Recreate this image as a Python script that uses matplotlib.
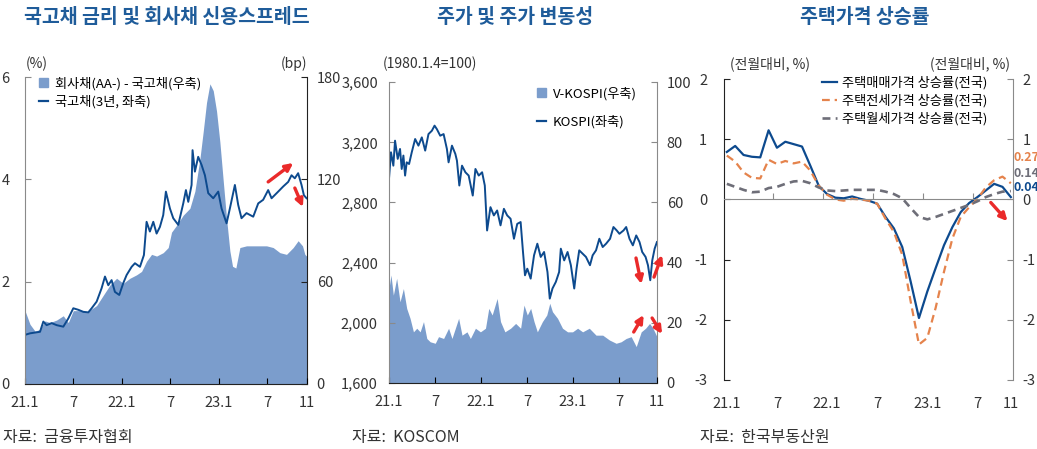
import matplotlib.pyplot as plt
from matplotlib.patches import Patch
from matplotlib.lines import Line2D
from matplotlib.ticker import FuncFormatter

plt.rcParams['font.family'] = ['Noto Sans CJK KR', 'DejaVu Sans']
plt.rcParams['axes.unicode_minus'] = False

# ---- 데이터 (그림에서 읽은 값, x = 2021.1부터의 개월 수) ----
# 국고채 3년 (%)
bond_t = [0.0, 0.62, 1.86, 2.27, 2.68, 3.30, 3.92, 4.74, 5.36, 5.98, 6.60, 7.22, 7.84, 8.25,
          8.87, 9.48, 9.90, 10.31, 10.72, 11.13, 11.67, 12.16, 12.58, 13.20, 13.61, 14.23,
          14.72, 15.05, 15.46, 15.88, 16.29, 16.70, 17.11, 17.44, 17.94, 18.35, 18.97, 19.59,
          19.92, 20.21, 20.62, 20.74, 21.03, 21.44, 21.86, 22.27, 22.68, 23.30, 23.92, 24.33,
          24.95, 25.36, 25.98, 26.39, 26.80, 27.42, 28.25, 28.87, 29.48, 30.10, 30.52, 31.34,
          31.96, 32.58, 32.99, 33.40, 33.81, 34.23, 34.52, 34.85]
bond_3y = [0.96, 0.99, 1.02, 1.22, 1.15, 1.19, 1.15, 1.12, 1.28, 1.48, 1.45, 1.41, 1.40, 1.48,
           1.61, 1.87, 2.10, 1.93, 2.03, 1.80, 1.74, 1.97, 2.13, 2.29, 2.36, 2.29, 2.52, 3.17,
           2.98, 3.17, 2.94, 3.07, 3.30, 3.76, 3.43, 3.24, 3.11, 3.53, 3.79, 3.56, 3.89, 4.57,
           4.15, 4.44, 4.28, 4.08, 3.73, 3.63, 3.76, 3.43, 3.14, 3.43, 3.89, 3.50, 3.24, 3.34,
           3.27, 3.53, 3.60, 3.79, 3.63, 3.76, 3.86, 3.95, 4.08, 4.02, 4.12, 3.89, 3.69, 3.63]

# 회사채(AA-) - 국고채 스프레드 (bp)
spread_t = [0.0, 0.62, 1.24, 1.86, 2.47, 3.09, 3.92, 4.74, 5.36, 5.98, 6.80, 7.63, 8.87, 9.69,
            10.52, 11.34, 12.16, 12.99, 13.81, 14.43, 15.05, 15.67, 16.29, 17.11, 17.73,
            18.14, 18.76, 19.59, 20.41, 21.03, 21.65, 22.06, 22.47, 22.89, 23.30, 23.71,
            24.12, 24.54, 24.95, 25.36, 25.69, 26.10, 26.60, 27.42, 28.25, 29.07, 29.90,
            30.72, 31.55, 32.37, 33.20, 33.81, 34.35, 34.64, 34.85]
spread_bp = [43, 35, 31, 32, 37, 36, 37.5, 40, 36, 43, 43, 42, 46, 52, 58, 62, 59, 62, 64, 66,
             72, 76, 75, 77, 80, 89, 93, 99, 103, 113, 132, 148, 165, 176, 172, 160, 142, 119,
             97, 78, 69, 68, 80, 81, 81, 81, 81, 80, 77, 76, 80, 84, 81, 76, 75]

# KOSPI (좌축)
kospi_t = [0, 0.26, 0.57, 0.79, 1.14, 1.44, 1.66, 1.88, 2.10, 2.31, 2.62, 2.97, 3.41, 3.84,
           4.28, 4.72, 5.15, 5.59, 5.94, 6.24, 6.68, 7.12, 7.55, 7.77, 8.21, 8.65, 8.86, 9.17,
           9.52, 9.96, 10.39, 10.92, 11.27, 11.70, 12.14, 12.49, 12.79, 13.23, 13.67, 14.10,
           14.54, 14.98, 15.41, 15.85, 16.29, 16.72, 17.16, 17.47, 17.73, 18.03, 18.47, 18.91,
           19.34, 19.78, 20.22, 20.66, 20.96, 21.31, 21.75, 22.18, 22.40, 22.84, 23.28, 23.71,
           24.15, 24.45, 24.80, 25.24, 25.68, 26.20, 26.55, 26.99, 27.42, 27.86, 28.30, 28.82,
           29.26, 29.69, 30.04, 30.57, 30.92, 31.35, 31.79, 32.23, 32.66, 33.01, 33.45, 33.76,
           34.06, 34.32, 34.63, 34.93]
kospi = [2957, 3134, 3045, 3211, 3090, 3156, 3023, 3112, 2979, 3067, 3056, 3134, 3222, 3178,
         3233, 3145, 3255, 3277, 3311, 3288, 3244, 3255, 3156, 3067, 3178, 3123, 3078, 2913,
         3045, 3001, 2979, 2846, 3023, 2979, 3001, 2913, 2614, 2769, 2714, 2747, 2648, 2758,
         2714, 2692, 2559, 2658, 2670, 2471, 2316, 2360, 2294, 2449, 2526, 2438, 2471, 2338,
         2161, 2228, 2272, 2338, 2493, 2415, 2471, 2383, 2228, 2360, 2482, 2460, 2438, 2383,
         2449, 2482, 2559, 2504, 2526, 2559, 2637, 2614, 2592, 2614, 2637, 2559, 2515, 2581,
         2537, 2471, 2438, 2383, 2283, 2415, 2493, 2537]

# V-KOSPI (우축)
vkospi_t = [0, 0.26, 0.57, 1.00, 1.44, 1.88, 2.31, 2.75, 3.19, 3.62, 4.06, 4.50, 4.93, 5.37,
            6.03, 6.46, 7.12, 7.77, 8.21, 9.08, 9.52, 10.17, 10.61, 11.27, 11.92, 12.58, 13.01,
            13.45, 14.10, 14.54, 15.11, 15.85, 16.51, 17.16, 17.60, 18.03, 18.47, 18.91, 19.34,
            20.00, 20.57, 20.96, 21.31, 21.97, 22.62, 23.28, 23.93, 24.59, 25.24, 26.11, 26.99,
            27.86, 28.73, 29.61, 30.26, 30.92, 31.57, 32.23, 32.88, 33.45, 33.97, 34.41, 34.93]
vkospi = [31.4, 35.9, 29.2, 34.8, 27.0, 31.4, 24.8, 21.5, 17.0, 18.2, 17.0, 20.4, 14.8, 13.7,
          13.2, 15.4, 14.8, 18.2, 14.8, 21.5, 15.9, 17.0, 14.8, 18.2, 17.0, 18.2, 24.8, 22.6,
          28.1, 20.4, 17.0, 18.2, 19.8, 18.2, 25.9, 22.6, 24.8, 20.4, 17.0, 20.4, 22.6, 26.5,
          23.7, 21.5, 18.2, 17.0, 17.0, 18.2, 17.0, 18.2, 15.9, 15.9, 14.3, 13.2, 13.7, 14.8,
          15.4, 12.1, 17.0, 18.2, 19.8, 18.2, 15.4]

# 주택가격 상승률 (월별, 21.1 ~ 23.11)
house_sale = [0.79, 0.89, 0.74, 0.71, 0.70, 1.15, 0.86, 0.96, 0.92, 0.88, 0.56, 0.23, 0.09,
              0.03, 0.02, 0.05, 0.01, -0.02, -0.07, -0.29, -0.48, -0.79, -1.36, -1.97, -1.53,
              -1.14, -0.76, -0.46, -0.21, -0.06, 0.04, 0.15, 0.26, 0.21, 0.04]
house_jeonse = [0.73, 0.63, 0.45, 0.36, 0.35, 0.66, 0.59, 0.64, 0.60, 0.63, 0.48, 0.23, 0.08,
                0.00, -0.02, 0.01, 0.00, -0.02, -0.07, -0.32, -0.54, -0.92, -1.69, -2.41,
                -2.30, -1.80, -1.20, -0.65, -0.29, -0.13, 0.01, 0.20, 0.32, 0.38, 0.27]
house_rent = [0.26, 0.21, 0.16, 0.12, 0.13, 0.19, 0.21, 0.26, 0.30, 0.31, 0.27, 0.20, 0.15,
              0.14, 0.15, 0.16, 0.16, 0.16, 0.16, 0.13, 0.09, 0.02, -0.14, -0.29, -0.33,
              -0.29, -0.24, -0.19, -0.14, -0.09, -0.03, 0.04, 0.09, 0.13, 0.14]

xlabels = ["21.1", "7", "22.1", "7", "23.1", "7", "11"]

# ---- 스타일 ----
FILL = "#7b9dcc"
NAVY = "#0d4a8e"
ORANGE = "#e5834c"
GREY = "#6e6e78"
RED = "#ea2a2a"
TITLE = "#1f5c9a"
TXT = "#333333"
SPINE_G = "#8a8a8a"
SPINE_D = "#222222"


def style_axes(ax, axr, left_col, right_col, bottom_col, lpad, rpad):
    for s in ["top", "right"]:
        ax.spines[s].set_visible(False)
    for s in ["top", "left", "bottom"]:
        axr.spines[s].set_visible(False)
    ax.spines["left"].set_color(left_col)
    ax.spines["bottom"].set_color(bottom_col)
    axr.spines["right"].set_color(right_col)
    ax.tick_params(axis="y", direction="in", length=4, pad=lpad, labelsize=10.5,
                   labelcolor=TXT, color=left_col)
    axr.tick_params(axis="y", direction="in", length=4, pad=rpad, labelsize=10.5,
                    labelcolor=TXT, color=right_col)


def arrow(ax, tail, head):
    ax.annotate("", xy=head, xytext=tail, annotation_clip=False,
                arrowprops=dict(arrowstyle="-|>", color=RED, lw=2.4, mutation_scale=11,
                                shrinkA=0, shrinkB=0))


fig = plt.figure(figsize=(10.37, 4.49), dpi=100)

# ---- 패널 1: 국고채 금리 및 회사채 신용스프레드 ----
ax1 = fig.add_axes([0.0241, 0.1448, 0.2719, 0.6837])
ax1r = ax1.twinx()
ax1r.fill_between(spread_t, spread_bp, color=FILL, lw=0)
ax1.plot(bond_t, bond_3y, color=NAVY, lw=1.4)
ax1.set_zorder(ax1r.get_zorder() + 1)
ax1.patch.set_visible(False)
ax1.set_xlim(0, 34.9)
ax1.set_ylim(0, 6)
ax1.set_yticks([0, 2, 4, 6])
ax1r.set_ylim(0, 180)
ax1r.set_yticks([0, 60, 120, 180])
ax1.set_xticks([0, 6, 12, 18, 24, 30, 34.9], xlabels)
ax1.tick_params(axis="x", direction="in", length=4, pad=9, labelsize=10.5, labelcolor=TXT)
style_axes(ax1, ax1r, SPINE_G, SPINE_D, SPINE_D, 11, 7)
ax1.legend(handles=[Patch(color=FILL, label="회사채(AA-) - 국고채(우축)"),
                    Line2D([], [], color=NAVY, lw=1.6, label="국고채(3년, 좌축)")],
           loc="upper left", bbox_to_anchor=(0.05, 1.0), frameon=False, fontsize=9.5,
           handlelength=0.7, handleheight=0.7, handletextpad=0.5, labelspacing=0.35,
           borderpad=0, borderaxespad=0)
arrow(ax1, (30.1, 3.95), (33.2, 4.32))
arrow(ax1, (33.4, 3.83), (34.4, 3.46))

# ---- 패널 2: 주가 및 주가 변동성 ----
ax2 = fig.add_axes([0.3751, 0.147, 0.2584, 0.670])
ax2r = ax2.twinx()
ax2r.fill_between(vkospi_t, vkospi, color=FILL, lw=0)
ax2.plot(kospi_t, kospi, color=NAVY, lw=1.4)
ax2.set_zorder(ax2r.get_zorder() + 1)
ax2.patch.set_visible(False)
ax2.set_xlim(0, 34.93)
ax2.set_ylim(1600, 3600)
ax2.set_yticks([1600, 2000, 2400, 2800, 3200, 3600])
ax2.yaxis.set_major_formatter(FuncFormatter(lambda v, p: f"{v:,.0f}"))
ax2r.set_ylim(0, 100)
ax2r.set_yticks([0, 20, 40, 60, 80, 100])
ax2.set_xticks([0, 6, 12, 18, 24, 30, 34.93], xlabels)
ax2.tick_params(axis="x", direction="in", length=4, pad=9, labelsize=10.5, labelcolor=TXT)
style_axes(ax2, ax2r, SPINE_G, SPINE_G, SPINE_D, 8, 7)
ax2.legend(handles=[Patch(color=FILL, label="V-KOSPI(우축)"),
                    Line2D([], [], color=NAVY, lw=1.6, label="KOSPI(좌축)")],
           loc="upper left", bbox_to_anchor=(0.552, 0.985), frameon=False, fontsize=9.5,
           handlelength=0.7, handleheight=0.7, handletextpad=0.5, labelspacing=1.1,
           borderpad=0, borderaxespad=0)
arrow(ax2, (32.2, 2431), (32.9, 2258))
arrow(ax2, (34.55, 2304), (35.6, 2451))
arrow(ax2, (31.9, 1939), (33.2, 2052))
arrow(ax2, (34.3, 2032), (35.6, 1926))

# ---- 패널 3: 주택가격 상승률 ----
months = list(range(len(house_sale)))
ax3 = fig.add_axes([0.698, 0.1537, 0.2787, 0.670])
ax3r = ax3.twinx()
ax3.plot(months, house_sale, color=NAVY, lw=1.6, label="주택매매가격 상승률(전국)")
ax3.plot(months, house_jeonse, color=ORANGE, lw=1.6, ls=(0, (3.5, 2.2)),
         label="주택전세가격 상승률(전국)")
ax3.plot(months, house_rent, color=GREY, lw=1.9, ls=(0, (3.0, 2.0)),
         label="주택월세가격 상승률(전국)")
ax3.set_xlim(-0.36, 34.24)
for a in (ax3, ax3r):
    a.set_ylim(-3, 2)
    a.set_yticks([-3, -2, -1, 0, 1, 2])
ax3.spines["bottom"].set_position(("data", 0))
ax3.spines["bottom"].set_color(SPINE_G)
ax3.set_xticks([5.5, 11.5, 17.5, 23.5, 29.5])
ax3.tick_params(axis="x", direction="in", length=4, color=SPINE_G, labelbottom=False)
sec = ax3.secondary_xaxis("bottom")
sec.set_xticks([0, 6, 12, 18, 24, 30, 34], xlabels)
sec.tick_params(length=0, pad=12, labelsize=10.5, labelcolor=TXT)
sec.spines["bottom"].set_visible(False)
style_axes(ax3, ax3r, SPINE_D, SPINE_G, SPINE_G, 12, 7)
ax3.legend(loc="upper left", bbox_to_anchor=(0.34, 1.01), frameon=False, fontsize=9.5,
           handlelength=1.1, handletextpad=0.4, labelspacing=0.35, borderpad=0,
           borderaxespad=0)
for vals, col, ypos in [(house_jeonse, ORANGE, 0.69), (house_rent, GREY, 0.43),
                        (house_sale, NAVY, 0.20)]:
    ax3.text(1.002, ypos, f"{vals[-1]:.2f}", color=col, fontsize=9, fontweight="bold",
             va="center", ha="left", transform=ax3.get_yaxis_transform(), clip_on=False)
arrow(ax3, (31.6, -0.05), (33.6, -0.36))

# ---- 제목 및 텍스트 ----
for x, t in [(0.161, "국고채 금리 및 회사채 신용스프레드"), (0.4966, "주가 및 주가 변동성"),
             (0.834, "주택가격 상승률")]:
    fig.text(x, 0.962, t, ha="center", va="center", fontsize=14, fontweight="bold",
             color=TITLE)
for x, t in [(0.0357, "(%)"), (0.2835, "(bp)"), (0.4147, "(1980.1.4=100)"),
             (0.7425, "(전월대비, %)"), (0.9354, "(전월대비, %)")]:
    fig.text(x, 0.858, t, ha="center", va="center", fontsize=10, color=TXT)
for x, t in [(0.003, "자료:  금융투자협회"), (0.3394, "자료:  KOSCOM"),
             (0.675, "자료:  한국부동산원")]:
    fig.text(x, 0.0245, t, ha="left", va="center", fontsize=11.5, color=TXT)

fig.savefig("out.png", dpi=100)
